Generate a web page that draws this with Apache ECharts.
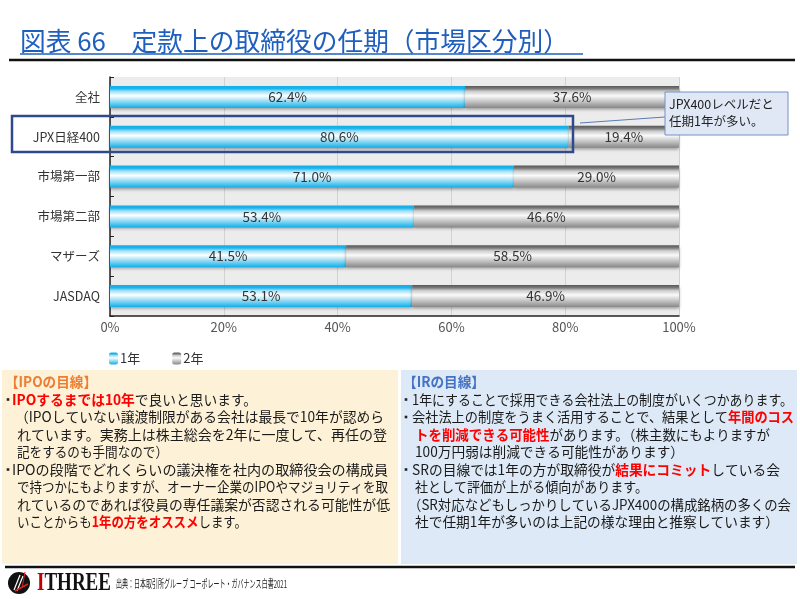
<!DOCTYPE html>
<html>
<head>
<meta charset="utf-8">
<script src="https://cdn.jsdelivr.net/npm/echarts@6/dist/echarts.min.js"></script>
<style>
  html, body { margin: 0; padding: 0; background: #fff; }
  #chart { width: 800px; height: 599px; }
</style>
</head>
<body>
<div id="chart"></div>
<script>
// データ
var categories = ['全社', 'JPX日経400', '市場第一部', '市場第二部', 'マザーズ', 'JASDAQ']
var oneYear = [62.4, 80.6, 71.0, 53.4, 41.5, 53.1]
var twoYear = [37.6, 19.4, 29.0, 46.6, 58.5, 46.9]
var seriesNames = ['1年', '2年']

var titleText = '図表 66　定款上の取締役の任期（市場区分別）'
var calloutLines = ['JPX400レベルだと', '任期1年が多い。']
var sourceText = '出典：日本取引所グループ コーポレート・ガバナンス白書2021'

// 下部テキスト（{r|...} は赤太字）
var ipoTitle = '【IPOの目線】'
var ipoLines = [
  { b: true, t: '{r|IPOするまでは10年}で良いと思います。', end: 257 },
  { t: '（IPOしていない譲渡制限がある会社は最長で10年が認めら', end: 384, x: 15 },
  { t: 'れています。実務上は株主総会を2年に一度して、再任の登', end: 387 },
  { t: '記をするのも手間なので）', end: 168 },
  { b: true, t: 'IPOの段階でどれくらいの議決権を社内の取締役会の構成員', end: 388 },
  { t: 'で持つかにもよりますが、オーナー企業のIPOやマジョリティを取', end: 388 },
  { t: 'れているのであれば役員の専任議案が否認される可能性が低', end: 390 },
  { t: 'いことからも{r|1年の方をオススメ}します。', end: 247 }
]
var irTitle = '【IRの目線】'
var irLines = [
  { b: true, t: '1年にすることで採用できる会社法上の制度がいくつかあります。', end: 793 },
  { b: true, t: '会社法上の制度をうまく活用することで、結果として{r|年間のコス}', end: 794 },
  { t: '{r|トを削減できる可能性}があります。（株主数にもよりますが', end: 770 },
  { t: '100万円弱は削減できる可能性があります）', end: 684 },
  { b: true, t: 'SRの目線では1年の方が取締役が{r|結果にコミット}している会', end: 780 },
  { t: '社として評価が上がる傾向があります。', end: 648 },
  { t: '（SR対応などもしっかりしているJPX400の構成銘柄の多くの会', end: 791, x: 408 },
  { t: '社で任期1年が多いのは上記の様な理由と推察しています）', end: 779 }
]

var FONT = '"Noto Sans CJK JP", "Noto Sans", sans-serif'
var SERIF = '"Liberation Serif", serif'
var measureCtx = document.createElement('canvas').getContext('2d')

function measureRich(str, size, weight) {
  var w = 0
  var re = /\{(\w+)\|([^}]*)\}/g
  var last = 0
  var m
  var parts = []
  while ((m = re.exec(str)) !== null) {
    if (m.index > last) parts.push({ s: str.slice(last, m.index), bold: weight === 'bold' })
    parts.push({ s: m[2], bold: true })
    last = re.lastIndex
  }
  if (last < str.length) parts.push({ s: str.slice(last), bold: weight === 'bold' })
  parts.forEach(function(p) {
    measureCtx.font = (p.bold ? 'bold ' : '') + size + 'px ' + FONT
    w += measureCtx.measureText(p.s).width
  })
  return w
}

function fitText(str, x, y, end, size, color, weight) {
  var sx = 1
  if (end) sx = (end - x) / measureRich(str, size, weight)
  return {
    type: 'text',
    x: x,
    y: y,
    scaleX: sx,
    z: 20,
    style: {
      text: str,
      fontSize: size,
      fontFamily: FONT,
      fontWeight: weight || 'normal',
      fill: color,
      verticalAlign: 'middle',
      rich: {
        r: { fill: '#ff0000', fontWeight: 'bold', fontSize: size, fontFamily: FONT }
      }
    }
  }
}

function boxText(lines, bulletX, textX, contX, top, step) {
  var out = []
  lines.forEach(function(l, i) {
    var y = top + i * step
    if (l.b) {
      out.push({ type: 'rect', z: 20, shape: { x: bulletX - 1.3, y: y - 1.3, width: 2.6, height: 2.6 }, style: { fill: '#222' } })
    }
    var x = l.x || (l.b ? textX : contX)
    out.push(fitText(l.t, x, y, l.end, 14, '#1a1a1a', 'normal'))
  })
  return out
}

var chart = echarts.init(document.getElementById('chart'))

var blueGrad = new echarts.graphic.LinearGradient(0, 0, 0, 1, [
  { offset: 0, color: '#10aee9' },
  { offset: 0.12, color: '#1cb4ec' },
  { offset: 0.25, color: '#9fe0f7' },
  { offset: 0.45, color: '#ffffff' },
  { offset: 0.72, color: '#8ad8f5' },
  { offset: 1, color: '#10aee9' }
])
var grayGrad = new echarts.graphic.LinearGradient(0, 0, 0, 1, [
  { offset: 0, color: '#585858' },
  { offset: 0.12, color: '#7a7a7a' },
  { offset: 0.25, color: '#cdcdcd' },
  { offset: 0.45, color: '#fafafa' },
  { offset: 0.72, color: '#c2c2c2' },
  { offset: 1, color: '#888888' }
])

measureCtx.font = 'bold 25px ' + SERIF
var logoScale = 74 / measureCtx.measureText('ITHREE').width

var graphics = [
  // タイトル
  fitText(titleText, 20, 41, 569, 26, '#1f5fbf', 'normal'),
  { type: 'line', shape: { x1: 20, y1: 54, x2: 583, y2: 54 }, style: { stroke: '#1f5fbf', lineWidth: 1.5 } },
  { type: 'line', shape: { x1: 9, y1: 60, x2: 795, y2: 60 }, style: { stroke: '#111', lineWidth: 2.5 } },
  // JPX 強調枠
  { type: 'rect', z: 15, shape: { x: 12, y: 116, width: 561, height: 36 }, style: { fill: 'none', stroke: '#2e4a8b', lineWidth: 2.5 } },
  // 吹き出し
  { type: 'line', z: 15, shape: { x1: 580, y1: 123, x2: 665, y2: 117 }, style: { stroke: '#5a7bb5', lineWidth: 1 } },
  { type: 'rect', z: 15, shape: { x: 665, y: 92, width: 123, height: 43 }, style: { fill: '#dfe8f4', stroke: '#7392c8', lineWidth: 1 } },
  fitText(calloutLines[0], 669, 104, null, 12.5, '#222', 'normal'),
  fitText(calloutLines[1], 669, 121, null, 12.5, '#222', 'normal'),
  // 下部ボックス
  { type: 'rect', z: 10, shape: { x: 2, y: 370, width: 396, height: 194 }, style: { fill: '#fdf1d7' } },
  { type: 'rect', z: 10, shape: { x: 401, y: 370, width: 396, height: 194 }, style: { fill: '#dde9f6' } },
  fitText(ipoTitle, 5, 382, 97, 14, '#ed7d31', 'bold'),
  fitText(irTitle, 403, 382, 485, 14, '#4472c4', 'bold'),
  // フッター
  { type: 'line', shape: { x1: 5, y1: 567, x2: 795, y2: 567 }, style: { stroke: '#111', lineWidth: 2.5 } },
  { type: 'circle', shape: { cx: 19, cy: 583, r: 11 }, style: { fill: '#111' } },
  { type: 'line', shape: { x1: 14, y1: 590, x2: 20, y2: 575 }, style: { stroke: '#fff', lineWidth: 1.2 } },
  { type: 'line', shape: { x1: 17, y1: 591, x2: 23, y2: 576 }, style: { stroke: '#fff', lineWidth: 1.2 } },
  { type: 'line', shape: { x1: 15, y1: 591, x2: 28, y2: 584 }, style: { stroke: '#e02020', lineWidth: 1.5 } },
  { type: 'line', shape: { x1: 22, y1: 588, x2: 25, y2: 572 }, style: { stroke: '#e02020', lineWidth: 1 } },
  {
    type: 'text', x: 37, y: 584, scaleX: logoScale,
    style: {
      text: '{i|I}{t|THREE}', verticalAlign: 'middle',
      rich: {
        i: { fill: '#c00000', fontSize: 25, fontWeight: 'bold', fontFamily: SERIF },
        t: { fill: '#111', fontSize: 25, fontWeight: 'bold', fontFamily: SERIF }
      }
    }
  },
  fitText(sourceText, 116, 584, 287, 11, '#222', 'normal')
]
graphics = graphics.concat(boxText(ipoLines, 8, 12, 17, 399.5, 17.5))
graphics = graphics.concat(boxText(irLines, 406, 412, 415, 399.5, 17.5))

var barLabel = {
  show: true,
  position: 'inside',
  color: '#333',
  fontSize: 13.5,
  formatter: function(p) { return p.value.toFixed(1) + '%' }
}

chart.setOption({
  animation: false,
  textStyle: { fontFamily: FONT },
  legend: {
    data: seriesNames,
    left: 104,
    top: 347,
    itemWidth: 9,
    itemHeight: 12,
    itemGap: 32,
    textStyle: { fontSize: 13, color: '#333', padding: [0, 0, 0, -3] }
  },
  grid: {
    left: 110,
    right: 121,
    top: 77,
    bottom: 283,
    show: true,
    backgroundColor: '#ececec',
    borderWidth: 0
  },
  xAxis: {
    type: 'value',
    min: 0,
    max: 100,
    interval: 20,
    axisLine: { show: true, lineStyle: { color: '#222', width: 1.5 } },
    axisTick: { show: false },
    axisLabel: { formatter: '{value}%', fontSize: 13, color: '#555', margin: 5 },
    splitLine: { show: true, lineStyle: { color: '#d2d2d2', width: 1 } }
  },
  yAxis: {
    type: 'category',
    data: categories,
    inverse: true,
    axisLine: { show: true, lineStyle: { color: '#222', width: 1.5 } },
    axisTick: { show: true, inside: true, length: 4, lineStyle: { color: '#222' } },
    axisLabel: { fontSize: 12.5, color: '#333', margin: 10 }
  },
  series: [
    {
      name: seriesNames[0],
      type: 'bar',
      stack: 'total',
      barWidth: 22,
      data: oneYear,
      itemStyle: { color: blueGrad, shadowColor: 'rgba(0,0,0,0.35)', shadowBlur: 3, shadowOffsetY: 2 },
      label: barLabel
    },
    {
      name: seriesNames[1],
      type: 'bar',
      stack: 'total',
      barWidth: 22,
      data: twoYear,
      itemStyle: { color: grayGrad, shadowColor: 'rgba(0,0,0,0.35)', shadowBlur: 3, shadowOffsetY: 2 },
      label: barLabel
    }
  ],
  graphic: graphics
})
</script>
</body>
</html>
